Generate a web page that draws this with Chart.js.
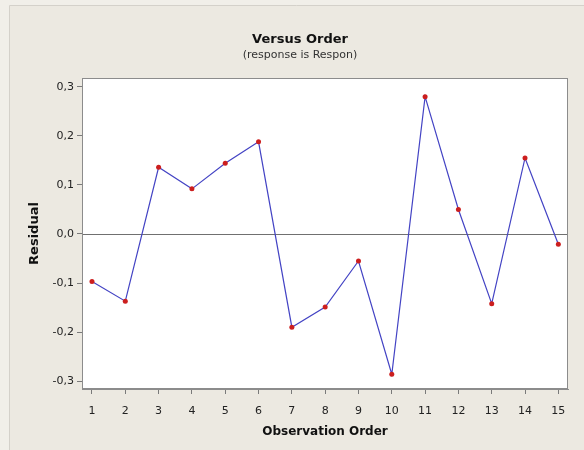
<!DOCTYPE html>
<html>
<head>
<meta charset="utf-8">
<script src="https://cdn.jsdelivr.net/npm/chart.js@4/dist/chart.umd.min.js"></script>
<style>
  html, body { margin: 0; padding: 0; background: #ECE9E1; }
  #wrap { position: relative; width: 584px; height: 450px; }
</style>
</head>
<body>
<div id="wrap"><canvas id="c" width="584" height="450"></canvas></div>
<script>
// Residuals in observation order
const observationOrder = [1, 2, 3, 4, 5, 6, 7, 8, 9, 10, 11, 12, 13, 14, 15];
const residuals = [-0.097, -0.137, 0.136, 0.092, 0.144, 0.188, -0.190, -0.149,
                   -0.055, -0.286, 0.280, 0.050, -0.142, 0.155, -0.021];
const yTickValues = [-0.3, -0.2, -0.1, 0.0, 0.1, 0.2, 0.3];
const chartTitle = 'Versus Order';
const chartSubtitle = '(response is Respon)';
const xAxisTitle = 'Observation Order';
const yAxisTitle = 'Residual';

const FONT = '"DejaVu Sans", Verdana, sans-serif';

function commaDecimal(v) {
  if (Math.abs(v) < 1e-9) return '0,0';
  return v.toFixed(1).replace('.', ',');
}

// Panel background, white plot area, zero reference line and frame
const panelPlugin = {
  id: 'panel',
  beforeDraw(chart) {
    const { ctx, chartArea: a, width, height } = chart;
    ctx.save();
    ctx.fillStyle = '#F1EFE9';
    ctx.fillRect(0, 0, width, height);
    ctx.fillStyle = '#ECE9E1';
    ctx.fillRect(10, 6, width - 10, height - 6);
    ctx.strokeStyle = '#D4D1CA';
    ctx.lineWidth = 1;
    ctx.beginPath();
    ctx.moveTo(9.5, height); ctx.lineTo(9.5, 5.5); ctx.lineTo(width, 5.5);
    ctx.stroke();
    ctx.fillStyle = '#FFFFFF';
    ctx.fillRect(a.left, a.top, a.right - a.left, a.bottom - a.top);
    ctx.restore();
  },
  beforeDatasetsDraw(chart) {
    const { ctx, chartArea: a, scales } = chart;
    const y0 = Math.round(scales.y.getPixelForValue(0)) + 0.5;
    ctx.save();
    ctx.strokeStyle = '#707070';
    ctx.lineWidth = 1;
    ctx.beginPath();
    ctx.moveTo(a.left, y0);
    ctx.lineTo(a.right, y0);
    ctx.stroke();
    ctx.restore();
  },
  afterDraw(chart) {
    const { ctx, chartArea: a } = chart;
    ctx.save();
    ctx.strokeStyle = '#8C8C8C';
    ctx.lineWidth = 1;
    ctx.strokeRect(a.left + 0.5, a.top + 0.5, a.right - a.left - 1, a.bottom - a.top - 1);
    ctx.fillStyle = '#111111';
    ctx.textAlign = 'center';
    ctx.textBaseline = 'middle';
    ctx.font = 'bold 13px ' + FONT;
    ctx.fillText(chartTitle, 300, 40);
    ctx.fillStyle = '#333333';
    ctx.font = '11px ' + FONT;
    ctx.fillText(chartSubtitle, 300, 55);
    ctx.restore();
  }
};

new Chart(document.getElementById('c'), {
  type: 'line',
  data: {
    datasets: [{
      data: observationOrder.map((x, i) => ({ x: x, y: residuals[i] })),
      borderColor: '#4343C4',
      borderWidth: 1.2,
      pointRadius: 2.5,
      pointBackgroundColor: '#CC1E1E',
      pointBorderColor: '#CC1E1E',
      pointBorderWidth: 0,
      tension: 0,
      fill: false
    }]
  },
  options: {
    responsive: false,
    animation: false,
    devicePixelRatio: 1,
    layout: { padding: { left: 16, right: 16, top: 78, bottom: 0 } },
    plugins: {
      legend: { display: false },
      tooltip: { enabled: false },
      title: { display: false }
    },
    scales: {
      x: {
        type: 'linear',
        min: 0.7,
        max: 15.29,
        afterBuildTicks(scale) { scale.ticks = observationOrder.map(v => ({ value: v })); },
        afterFit(scale) { scale.height = 61; },
        ticks: {
          autoSkip: false, maxRotation: 0, padding: 11,
          color: '#222222', font: { family: FONT, size: 11 },
          callback: v => String(v)
        },
        grid: { drawOnChartArea: false, tickLength: 5, color: '#7A7A7A' },
        border: { color: '#8C8C8C' },
        title: {
          display: true, text: xAxisTitle, color: '#111111',
          font: { family: FONT, size: 12, weight: 'bold' },
          padding: { top: 0, bottom: 11 }
        }
      },
      y: {
        min: -0.316,
        max: 0.318,
        afterBuildTicks(scale) { scale.ticks = yTickValues.map(v => ({ value: v })); },
        afterFit(scale) { scale.width = 66; },
        ticks: {
          padding: 3, color: '#222222', font: { family: FONT, size: 11 },
          callback: v => commaDecimal(v)
        },
        grid: { drawOnChartArea: false, tickLength: 5, color: '#7A7A7A' },
        border: { color: '#8C8C8C' },
        title: {
          display: true, text: yAxisTitle, color: '#111111',
          font: { family: FONT, size: 13, weight: 'bold' },
          padding: { top: 11, bottom: 0 }
        }
      }
    }
  },
  plugins: [panelPlugin]
});
</script>
</body>
</html>
